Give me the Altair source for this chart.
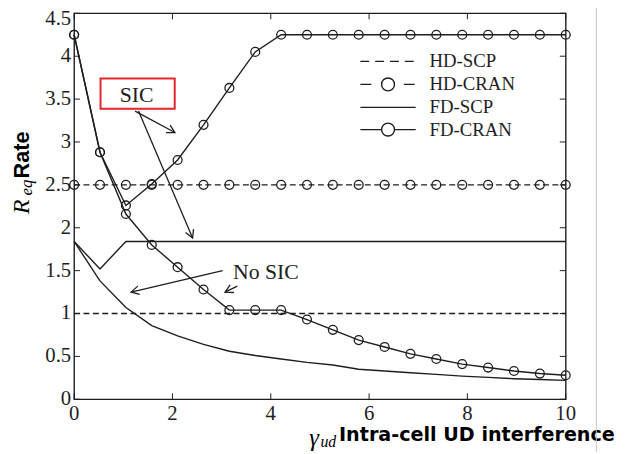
import math
import altair as alt
import pandas as pd

# ---------------- data ----------------
x_vals = [0, 0.526, 1.053, 1.579, 2.105, 2.632, 3.158, 3.684, 4.211, 4.737,
          5.263, 5.789, 6.316, 6.842, 7.368, 7.895, 8.421, 8.947, 9.474, 10]
hd_scp = [1.0, 1.0, 1.0, 1.0, 1.0, 1.0, 1.0, 1.0, 1.0, 1.0,
          1.0, 1.0, 1.0, 1.0, 1.0, 1.0, 1.0, 1.0, 1.0, 1.0]
hd_cran = [2.5, 2.5, 2.5, 2.5, 2.5, 2.5, 2.5, 2.5, 2.5, 2.5,
           2.5, 2.5, 2.5, 2.5, 2.5, 2.5, 2.5, 2.5, 2.5, 2.5]
fd_scp_sic = [1.84, 1.52, 1.84, 1.84, 1.84, 1.84, 1.84, 1.84, 1.84, 1.84,
              1.84, 1.84, 1.84, 1.84, 1.84, 1.84, 1.84, 1.84, 1.84, 1.84]
fd_scp_nosic = [1.84, 1.38, 1.07, 0.86, 0.74, 0.64, 0.56, 0.51, 0.47, 0.43,
                0.40, 0.35, 0.33, 0.31, 0.29, 0.27, 0.255, 0.24, 0.23, 0.22]
fd_cran_sic = [4.25, 2.88, 2.26, 2.51, 2.79, 3.20, 3.63, 4.05, 4.25, 4.25,
               4.25, 4.25, 4.25, 4.25, 4.25, 4.25, 4.25, 4.25, 4.25, 4.25]
fd_cran_nosic = [4.25, 2.88, 2.16, 1.80, 1.54, 1.28, 1.04, 1.04, 1.04, 0.93,
                 0.81, 0.69, 0.61, 0.53, 0.47, 0.41, 0.37, 0.33, 0.30, 0.28]

x_ticks = [0, 2, 4, 6, 8, 10]
x_tick_labels = ["0", "2", "4", "6", "8", "10"]
y_ticks = [0, 0.5, 1, 1.5, 2, 2.5, 3, 3.5, 4, 4.5]
y_tick_labels = ["0", "0.5", "1", "1.5", "2", "2.5", "3", "3.5", "4", "4.5"]

legend_labels = ["HD-SCP", "HD-CRAN", "FD-SCP", "FD-CRAN"]

# annotation arrows (data coordinates): start x, start y, end x, end y
arrow_x0 = [1.24, 1.31, 3.02, 3.32]
arrow_y0 = [3.36, 3.36, 1.50, 1.32]
arrow_x1 = [2.05, 2.41, 1.16, 3.07]
arrow_y1 = [3.11, 1.88, 1.25, 1.25]

sic_box_x = [0.537]
sic_box_x2 = [2.046]
sic_box_y = [3.739]
sic_box_y2 = [3.387]
note_text = ["SIC", "No SIC"]
note_x = [1.27, 3.90]
note_y = [3.55, 1.48]

# ---------------- layout ----------------
W, H = 498, 391
INK = "#1e1e1e"
SERIF = "Liberation Serif"

xs = alt.Scale(domain=[0, 10], nice=False, zero=False)
ys = alt.Scale(domain=[0, 4.5], nice=False, zero=False)


def X(f):
    return alt.X(f, scale=xs, axis=None)


def Y(f):
    return alt.Y(f, scale=ys, axis=None)


series = [
    ("HD-SCP", hd_scp, True, False),
    ("HD-CRAN", hd_cran, True, True),
    ("FD-SCP SIC", fd_scp_sic, False, False),
    ("FD-SCP NoSIC", fd_scp_nosic, False, False),
    ("FD-CRAN SIC", fd_cran_sic, False, True),
    ("FD-CRAN NoSIC", fd_cran_nosic, False, True),
]
rows = []
for name, vals, dashed, marker in series:
    for xv, yv in zip(x_vals, vals):
        rows.append({"x": xv, "y": yv, "series": name,
                     "dashed": dashed, "marker": marker})
df = pd.DataFrame(rows)

base = alt.Chart(df)
solid = base.transform_filter("!datum.dashed").mark_line(
    color=INK, strokeWidth=1.4).encode(x=X("x:Q"), y=Y("y:Q"), detail="series:N")
dashed = base.transform_filter("datum.dashed").mark_line(
    color=INK, strokeWidth=1.4, strokeDash=[6, 3.5]).encode(
    x=X("x:Q"), y=Y("y:Q"), detail="series:N")
markers = base.transform_filter("datum.marker").mark_point(
    shape="circle", filled=False, size=81, color=INK, strokeWidth=1.3, opacity=1).encode(
    x=X("x:Q"), y=Y("y:Q"))

# tick labels placed through the scales
dfxl = pd.DataFrame({"t": x_ticks, "lab": x_tick_labels})
dfyl = pd.DataFrame({"t": y_ticks, "lab": y_tick_labels})
x_labels = alt.Chart(dfxl).mark_text(
    font=SERIF, fontSize=21, color=INK, align="center", baseline="middle").encode(
    x=X("t:Q"), y=alt.value(H + 14.5), text="lab:N")
y_labels = alt.Chart(dfyl).transform_filter("datum.t < 4.4").mark_text(
    font=SERIF, fontSize=21, color=INK, align="right", baseline="middle").encode(
    x=alt.value(-3), y=Y("t:Q"), text="lab:N")
y_top_label = alt.Chart(dfyl).transform_filter("datum.t > 4.4").mark_text(
    font=SERIF, fontSize=21, color=INK, align="right", baseline="middle", dy=6).encode(
    x=alt.value(-3), y=Y("t:Q"), text="lab:N")

# inward box ticks
dfx = pd.DataFrame({"t": x_ticks})
dfy = pd.DataFrame({"t": y_ticks})
tick_layers = []
for y0, y1 in [(H, H - 6), (0, 6)]:
    tick_layers.append(alt.Chart(dfx).mark_rule(color=INK, strokeWidth=1).encode(
        x=X("t:Q"), y=alt.value(y0), y2=alt.value(y1)))
for x0, x1 in [(0, 6), (W, W - 6)]:
    tick_layers.append(alt.Chart(dfy).mark_rule(color=INK, strokeWidth=1).encode(
        y=Y("t:Q"), x=alt.value(x0), x2=alt.value(x1)))

# annotations
px_x = W / 10.0
px_y = H / 4.5
angles = []
for a, b, c, d in zip(arrow_x0, arrow_y0, arrow_x1, arrow_y1):
    dx = (c - a) * px_x
    dys = -(d - b) * px_y
    angles.append(math.degrees(math.atan2(dx, -dys)) % 360)
dfa = pd.DataFrame({"x0": arrow_x0, "y0": arrow_y0, "x1": arrow_x1,
                    "y1": arrow_y1, "ang": angles})
arrow_lines = alt.Chart(dfa).mark_rule(color=INK, strokeWidth=1.3).encode(
    x=X("x0:Q"), y=Y("y0:Q"), x2="x1:Q", y2="y1:Q")
arrow_heads = alt.Chart(dfa).mark_point(
    shape="M-0.55,1 L0,0 L0.55,1", filled=False, size=250, color=INK,
    strokeWidth=1.3, opacity=1).encode(
    x=X("x1:Q"), y=Y("y1:Q"), angle=alt.Angle("ang:Q", scale=None))

dfb = pd.DataFrame({"x": sic_box_x, "x2": sic_box_x2, "y": sic_box_y, "y2": sic_box_y2})
sic_box = alt.Chart(dfb).mark_rect(fill="white", stroke="#e3262b", strokeWidth=2).encode(
    x=X("x:Q"), x2="x2:Q", y=Y("y:Q"), y2="y2:Q")
dfn = pd.DataFrame({"t": note_text, "x": note_x, "y": note_y})
notes = alt.Chart(dfn).mark_text(font=SERIF, fontSize=22, color=INK,
                                 align="center", baseline="middle").encode(
    x=X("x:Q"), y=Y("y:Q"), text="t:N")

# legend (no box)
leg_y = [48.7, 72.0, 95.3, 117.8]
legend_layers = []
for i, lab in enumerate(legend_labels):
    one = alt.Chart(pd.DataFrame({"t": [lab]}))
    yv = leg_y[i]
    if lab == "HD-SCP":
        legend_layers.append(one.mark_rule(color=INK, strokeWidth=1.4, strokeDash=[9, 6]).encode(
            x=alt.value(290), x2=alt.value(347), y=alt.value(yv)))
    elif lab == "HD-CRAN":
        legend_layers.append(one.mark_rule(color=INK, strokeWidth=1.4, strokeDash=[11, 33]).encode(
            x=alt.value(290), x2=alt.value(347), y=alt.value(yv)))
    else:
        legend_layers.append(one.mark_rule(color=INK, strokeWidth=1.4).encode(
            x=alt.value(290), x2=alt.value(346), y=alt.value(yv)))
    if "CRAN" in lab:
        legend_layers.append(one.mark_point(shape="circle", filled=True, fill="white",
                                            stroke=INK, strokeWidth=1.4, size=170, opacity=1).encode(
            x=alt.value(318), y=alt.value(yv)))
    legend_layers.append(one.mark_text(font=SERIF, fontSize=19, color=INK, align="left",
                                       baseline="middle").encode(
        x=alt.value(360), y=alt.value(yv), text="t:N"))


# axis titles built from text pieces
def txt(s, xv, yv, **kw):
    return alt.Chart(pd.DataFrame({"t": [s]})).mark_text(color="black", **kw).encode(
        x=alt.value(xv), y=alt.value(yv), text="t:N")


titles = [
    txt("Rate", -52.5, 143.5, font="Liberation Sans", fontWeight="bold", fontSize=22,
        angle=270, align="center", baseline="middle"),
    txt("eq", -47.5, 176.5, font=SERIF, fontStyle="italic", fontSize=17,
        angle=270, align="center", baseline="middle"),
    txt("R", -53, 196, font=SERIF, fontStyle="italic", fontSize=24,
        angle=270, align="center", baseline="middle"),
    txt("\u03b3", 243, 430, font=SERIF, fontStyle="italic", fontSize=25,
        align="center", baseline="middle"),
    txt("ud", 257.5, 434, font=SERIF, fontStyle="italic", fontSize=16,
        align="center", baseline="middle"),
    txt("Intra-cell UD interference", 268.3, 433.3, font="DejaVu Sans",
        fontWeight="bold", fontSize=19.4, align="left", baseline="alphabetic"),
]

edge = alt.Chart(pd.DataFrame({"t": [0]})).mark_rule(color="#c4c4c4", strokeWidth=1).encode(
    x=alt.value(529), y=alt.value(-6), y2=alt.value(445))

chart = alt.layer(
    solid, dashed, markers, x_labels, y_labels, y_top_label, *tick_layers,
    sic_box, arrow_lines, arrow_heads, notes, *legend_layers, *titles, edge
).properties(
    width=W, height=H,
    autosize=alt.AutoSizeParams(type="none"),
    padding={"left": 67, "top": 2.5, "right": 56, "bottom": 50},
    background="white",
).configure_view(stroke=INK, strokeWidth=1.4)

chart.save("out.html", embed_options={"renderer": "svg", "actions": False})
